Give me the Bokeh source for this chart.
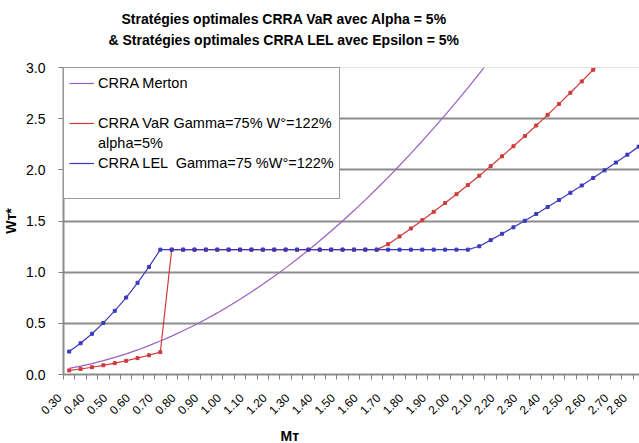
from bokeh.plotting import figure
from bokeh.models import (FixedTicker, Legend, LegendItem, Title, Span, Range1d,
                          NumeralTickFormatter)
from bokeh.embed import file_html
from bokeh.resources import INLINE

# ---------------- data ----------------
categories = [0.30, 0.35, 0.40, 0.45, 0.50, 0.55, 0.60, 0.65, 0.70, 0.75,
              0.80, 0.85, 0.90, 0.95, 1.00, 1.05, 1.10, 1.15, 1.20, 1.25,
              1.30, 1.35, 1.40, 1.45, 1.50, 1.55, 1.60, 1.65, 1.70, 1.75,
              1.80, 1.85, 1.90, 1.95, 2.00, 2.05, 2.10, 2.15, 2.20, 2.25,
              2.30, 2.35, 2.40, 2.45, 2.50, 2.55, 2.60, 2.65, 2.70, 2.75, 2.80]

tick_labels = ["0.30", "0.40", "0.50", "0.60", "0.70", "0.80", "0.90", "1.00",
               "1.10", "1.20", "1.30", "1.40", "1.50", "1.60", "1.70", "1.80",
               "1.90", "2.00", "2.10", "2.20", "2.30", "2.40", "2.50", "2.60",
               "2.70", "2.80"]

merton = [0.060, 0.082, 0.107, 0.135, 0.167, 0.202, 0.240, 0.282, 0.327, 0.375,
          0.427, 0.482, 0.540, 0.602, 0.667, 0.735, 0.807, 0.882, 0.960, 1.042,
          1.127, 1.215, 1.307, 1.402, 1.500, 1.602, 1.707, 1.815, 1.927, 2.042,
          2.160, 2.282, 2.407, 2.535, 2.667, 2.802, 2.940, 3.082]

var_alpha = [0.040, 0.054, 0.071, 0.090, 0.111, 0.134, 0.160, 0.188, 0.218,
             1.22, 1.22, 1.22, 1.22, 1.22, 1.22, 1.22, 1.22, 1.22, 1.22,
             1.22, 1.22, 1.22, 1.22, 1.22, 1.22, 1.22, 1.22, 1.22,
             1.273, 1.349, 1.427, 1.508, 1.590, 1.675, 1.762, 1.851, 1.943, 2.036,
             2.132, 2.230, 2.330, 2.433, 2.537, 2.644, 2.753, 2.864, 2.978, 3.094]

lel_eps = [0.224, 0.305, 0.398, 0.504, 0.622, 0.752, 0.896, 1.051,
           1.22, 1.22, 1.22, 1.22, 1.22, 1.22, 1.22, 1.22, 1.22, 1.22,
           1.22, 1.22, 1.22, 1.22, 1.22, 1.22, 1.22, 1.22, 1.22, 1.22,
           1.22, 1.22, 1.22, 1.22, 1.22, 1.22, 1.22, 1.22,
           1.253, 1.313, 1.375, 1.438, 1.503, 1.569, 1.636, 1.705, 1.776, 1.847,
           1.920, 1.995, 2.071, 2.148, 2.227]

series_names = ["CRRA Merton", "CRRA VaR Gamma=75% W°=122%", "alpha=5%",
                "CRRA LEL  Gamma=75 %W°=122%"]
y_ticks = [0.0, 0.5, 1.0, 1.5, 2.0, 2.5, 3.0]

# ---------------- layout ----------------
FONT = "Liberation Sans"
W, H = 639, 443
LEFT, TOP, BOTTOM = 60, 67, 68
step = 0.05
x0 = categories[0] - step / 2
px_per_unit = (W - LEFT) / (categories[-1] + 0.0034 - x0)
x1 = x0 + (W - LEFT) / px_per_unit
PAD = "\u00a0" * 4   # pushes rotated label text back along its baseline

p = figure(width=W, height=H, output_backend="svg", toolbar_location=None,
           x_range=Range1d(x0, x1), y_range=Range1d(0, 3.0),
           min_border_left=LEFT, min_border_top=TOP, min_border_bottom=BOTTOM,
           min_border_right=0)
p.outline_line_color = None
p.background_fill_color = "white"
p.border_fill_color = "white"

# titles: spacer nearest the frame, then line 2, then line 1
spacer = Title(text=" ", text_font=FONT, text_font_size="14px", standoff=0)
t2 = Title(text="& Stratégies optimales CRRA LEL avec Epsilon = 5%", align="left",
           offset=45, text_font=FONT, text_font_size="14px", text_font_style="bold",
           text_color="#000000", standoff=3)
t1 = Title(text="Stratégies optimales CRRA VaR avec Alpha = 5%", align="left",
           offset=58, text_font=FONT, text_font_size="14px", text_font_style="bold",
           text_color="#000000", standoff=3)
p.title = None
p.add_layout(spacer, "above")
p.add_layout(t2, "above")
p.add_layout(t1, "above")

# grid
p.xgrid.visible = False
p.ygrid.ticker = FixedTicker(ticks=y_ticks[1:-1])
p.ygrid.grid_line_color = "#8c8c8c"
p.ygrid.grid_line_width = 2
p.add_layout(Span(location=y_ticks[-1], dimension="width", line_color="#c8c8c8",
                  line_width=1))

# x axis
labelled = categories[::2]
p.xaxis.ticker = FixedTicker(ticks=labelled,
                             minor_ticks=[x0 + k * step for k in range(len(categories) + 1)])
p.xaxis.major_label_overrides = {c: t + PAD for c, t in zip(labelled, tick_labels)}
p.xaxis.major_label_orientation = 0.785398
p.xaxis.major_tick_in = 0
p.xaxis.major_tick_out = 0
p.xaxis.minor_tick_in = 0
p.xaxis.minor_tick_out = 5
p.xaxis.minor_tick_line_color = "#808080"
p.xaxis.axis_line_color = "#8c8c8c"
p.xaxis.axis_line_width = 2
p.xaxis.major_label_standoff = 7
p.xaxis.major_label_text_font = FONT
p.xaxis.major_label_text_font_size = "12px"
p.xaxis.major_label_text_color = "#000000"

# x axis title, placed below the axis and centred like the reference
xt = Title(text="Mᴛ", align="left", offset=217, text_font=FONT, text_font_size="14px",
           text_font_style="bold", text_color="#000000", standoff=0)
p.add_layout(xt, "below")

# y axis
p.yaxis.ticker = FixedTicker(ticks=y_ticks)
p.yaxis.formatter = NumeralTickFormatter(format="0.0")
p.yaxis.major_tick_in = 0
p.yaxis.major_tick_out = 5
p.yaxis.minor_tick_out = 0
p.yaxis.minor_tick_in = 0
p.yaxis.major_tick_line_color = "#808080"
p.yaxis.axis_line_color = "#8c8c8c"
p.yaxis.axis_line_width = 2
p.yaxis.major_label_standoff = 13
p.yaxis.major_label_text_font = FONT
p.yaxis.major_label_text_font_size = "14px"
p.yaxis.major_label_text_color = "#000000"
p.yaxis.axis_label = "Wᴛ*"
p.yaxis.axis_label_text_font = FONT
p.yaxis.axis_label_text_font_size = "14px"
p.yaxis.axis_label_text_font_style = "bold"
p.yaxis.axis_label_text_color = "#000000"
p.yaxis.axis_label_standoff = 4

# series
c_merton, c_var, c_lel = "#9a5fc0", "#d03a3a", "#3a3ac0"
r_m = p.line(categories[:len(merton)], merton, line_color=c_merton, line_width=1.2)
r_v = p.line(categories[:len(var_alpha)], var_alpha, line_color=c_var, line_width=1.2)
p.scatter(categories[:len(var_alpha)], var_alpha, marker="square", size=3,
          fill_color=c_var, line_color=c_var)
r_l = p.line(categories[:len(lel_eps)], lel_eps, line_color=c_lel, line_width=1.2)
p.scatter(categories[:len(lel_eps)], lel_eps, marker="square", size=3,
          fill_color=c_lel, line_color=c_lel)
r_blank = p.line([], [], line_alpha=0)

legend = Legend(items=[
    LegendItem(label=series_names[0], renderers=[r_m]),
    LegendItem(label=" ", renderers=[r_blank]),
    LegendItem(label=series_names[1], renderers=[r_v]),
    LegendItem(label=series_names[2], renderers=[r_blank]),
    LegendItem(label=series_names[3], renderers=[r_l]),
    LegendItem(label=" ", renderers=[r_blank]),
], location="top_left", margin=0, padding=5, spacing=0,
    label_height=20, glyph_height=20, glyph_width=25, label_standoff=4,
    label_text_font=FONT, label_text_font_size="14.5px", label_text_color="#000000",
    border_line_color="#333333", border_line_width=1,
    background_fill_color="white", background_fill_alpha=1.0)
p.add_layout(legend, "center")

open("out.html", "w").write(file_html(p, INLINE))
